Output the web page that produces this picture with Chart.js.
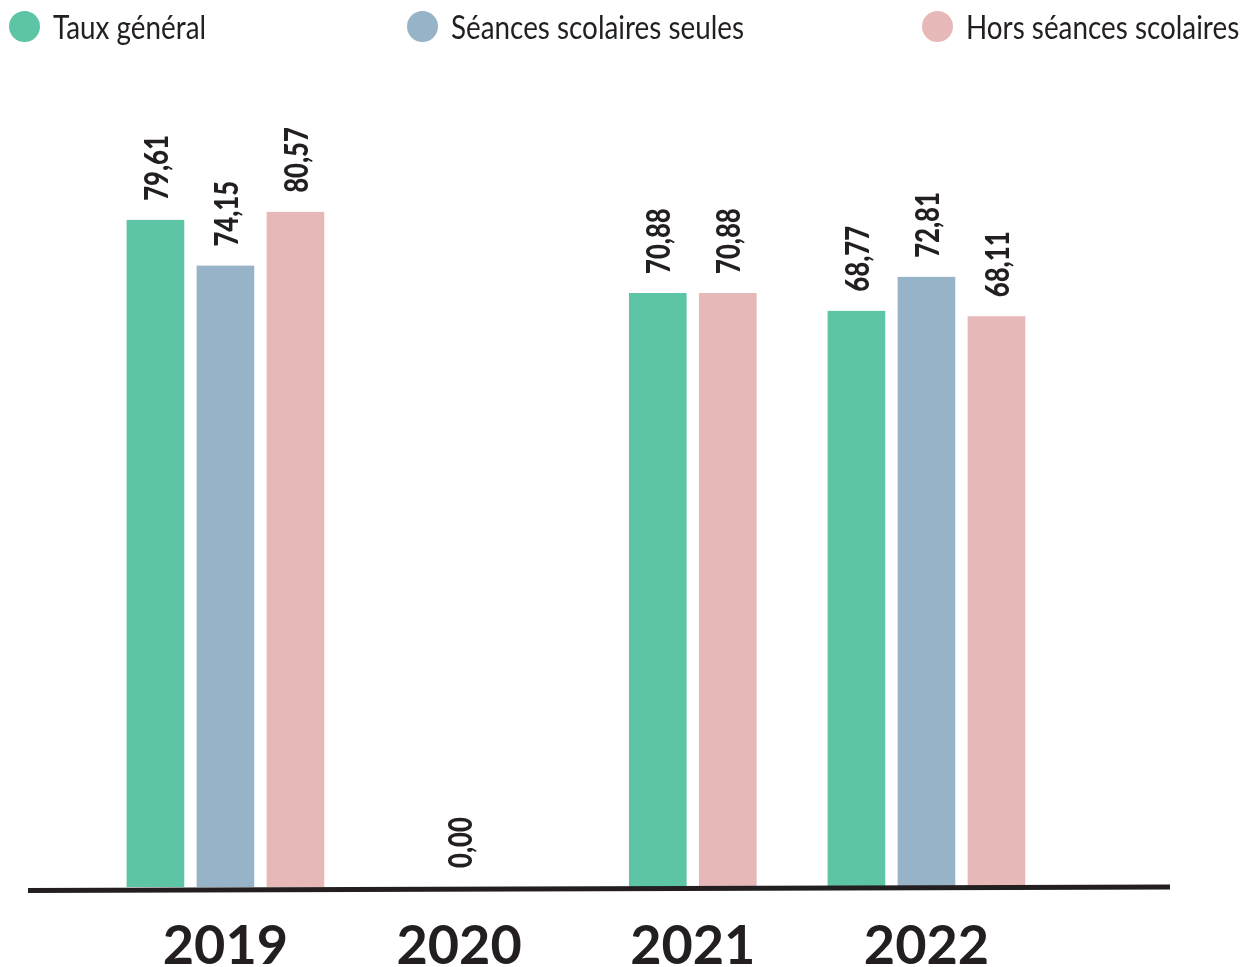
<!DOCTYPE html>
<html lang="fr">
<head>
<meta charset="utf-8">
<title>Taux par année</title>
<script src="https://cdn.jsdelivr.net/npm/chart.js@4.4.1/dist/chart.umd.min.js"></script>
<style>
  html, body { margin: 0; padding: 0; background: #fff; }
  #wrap { position: relative; width: 1243px; height: 967px; }
  #legend { position: absolute; top: 0; left: 0; width: 1243px; height: 60px;
    font-family: Lato, sans-serif; font-size: 32px; color: #231f20; z-index: 2; }
  .leg-item { position: absolute; top: 11px; height: 31px; display: flex; align-items: center; white-space: nowrap; line-height: 31px; }
  .leg-dot { width: 31px; height: 31px; border-radius: 50%; margin-right: 13px; flex: none; }
  .leg-text { display: inline-block; transform: scaleX(0.87); transform-origin: left center; }
  .leg-item:nth-child(1) { left: 9px; }
  .leg-item:nth-child(2) { left: 407px; }
  .leg-item:nth-child(3) { left: 922px; }
  canvas { position: absolute; top: 0; left: 0; }
</style>
</head>
<body>
<div id="wrap">
  <div id="legend"></div>
  <canvas id="chart" width="1243" height="967"></canvas>
</div>
<script>
// Data
const years = ['2019', '2020', '2021', '2022'];
const seriesNames = ['Taux général', 'Séances scolaires seules', 'Hors séances scolaires'];
const tauxGeneral = [79.61, 0, 70.88, 68.77];
const seancesScolaires = [74.15, null, null, 72.81];
const horsSeances = [80.57, null, 70.88, 68.11];
const seriesColors = ['#5ec4a6', '#96b3c8', '#e7b8b8'];
const yMax = 100;

const seriesData = [tauxGeneral, seancesScolaires, horsSeances];
const textColor = '#231f20';

// Build the legend
const legend = document.getElementById('legend');
seriesNames.forEach((name, i) => {
  const item = document.createElement('div');
  item.className = 'leg-item';
  const dot = document.createElement('span');
  dot.className = 'leg-dot';
  dot.style.background = seriesColors[i];
  const label = document.createElement('span');
  label.className = 'leg-text';
  label.textContent = name;
  item.appendChild(dot);
  item.appendChild(label);
  legend.appendChild(item);
});

// Rotated value labels above each bar (narrowed to match the condensed digits)
const valueLabels = {
  id: 'valueLabels',
  afterDatasetsDraw(chart) {
    const ctx = chart.ctx;
    ctx.save();
    ctx.fillStyle = textColor;
    ctx.font = '900 33px Lato, sans-serif';
    ctx.textAlign = 'left';
    ctx.textBaseline = 'middle';
    chart.data.datasets.forEach((ds, i) => {
      chart.getDatasetMeta(i).data.forEach((bar, j) => {
        const v = ds.data[j];
        if (v === null || v === undefined) return;
        ctx.save();
        ctx.translate(bar.x + 2, bar.y - 19);
        ctx.rotate(-Math.PI / 2);
        ctx.scale(0.78, 1);
        ctx.fillText(v.toFixed(2).replace('.', ','), 0, 0);
        ctx.restore();
      });
    });
    ctx.restore();
  }
};

// Thick base line under the bars
const baseline = {
  id: 'baseline',
  afterDatasetsDraw(chart) {
    const y0 = chart.scales.y.getPixelForValue(0);
    const ctx = chart.ctx;
    ctx.save();
    ctx.strokeStyle = textColor;
    ctx.lineWidth = 5;
    ctx.beginPath();
    ctx.moveTo(28, y0 + 3.5);
    ctx.lineTo(1170, y0);
    ctx.stroke();
    ctx.restore();
  }
};

new Chart(document.getElementById('chart').getContext('2d'), {
  type: 'bar',
  data: {
    labels: years,
    datasets: seriesNames.map((name, i) => ({
      label: name,
      data: seriesData[i],
      backgroundColor: seriesColors[i],
      borderColor: '#ffffff',
      borderWidth: { top: 0, right: 6.5, bottom: 0, left: 6.5 },
      barThickness: 70,
      skipNull: true
    }))
  },
  options: {
    responsive: false,
    animation: false,
    layout: { padding: { left: 108.6, right: 199.7, top: 49, bottom: 0 } },
    plugins: {
      legend: { display: false },
      tooltip: { enabled: false }
    },
    scales: {
      x: {
        grid: { display: false, drawTicks: false },
        border: { display: false },
        ticks: {
          color: textColor,
          padding: 33,
          font: { family: 'Lato', weight: 'bold', size: 54, lineHeight: 1 }
        },
        afterFit(scale) { scale.height = 80; }
      },
      y: {
        display: false,
        min: 0,
        max: yMax
      }
    }
  },
  plugins: [baseline, valueLabels]
});
</script>
</body>
</html>
